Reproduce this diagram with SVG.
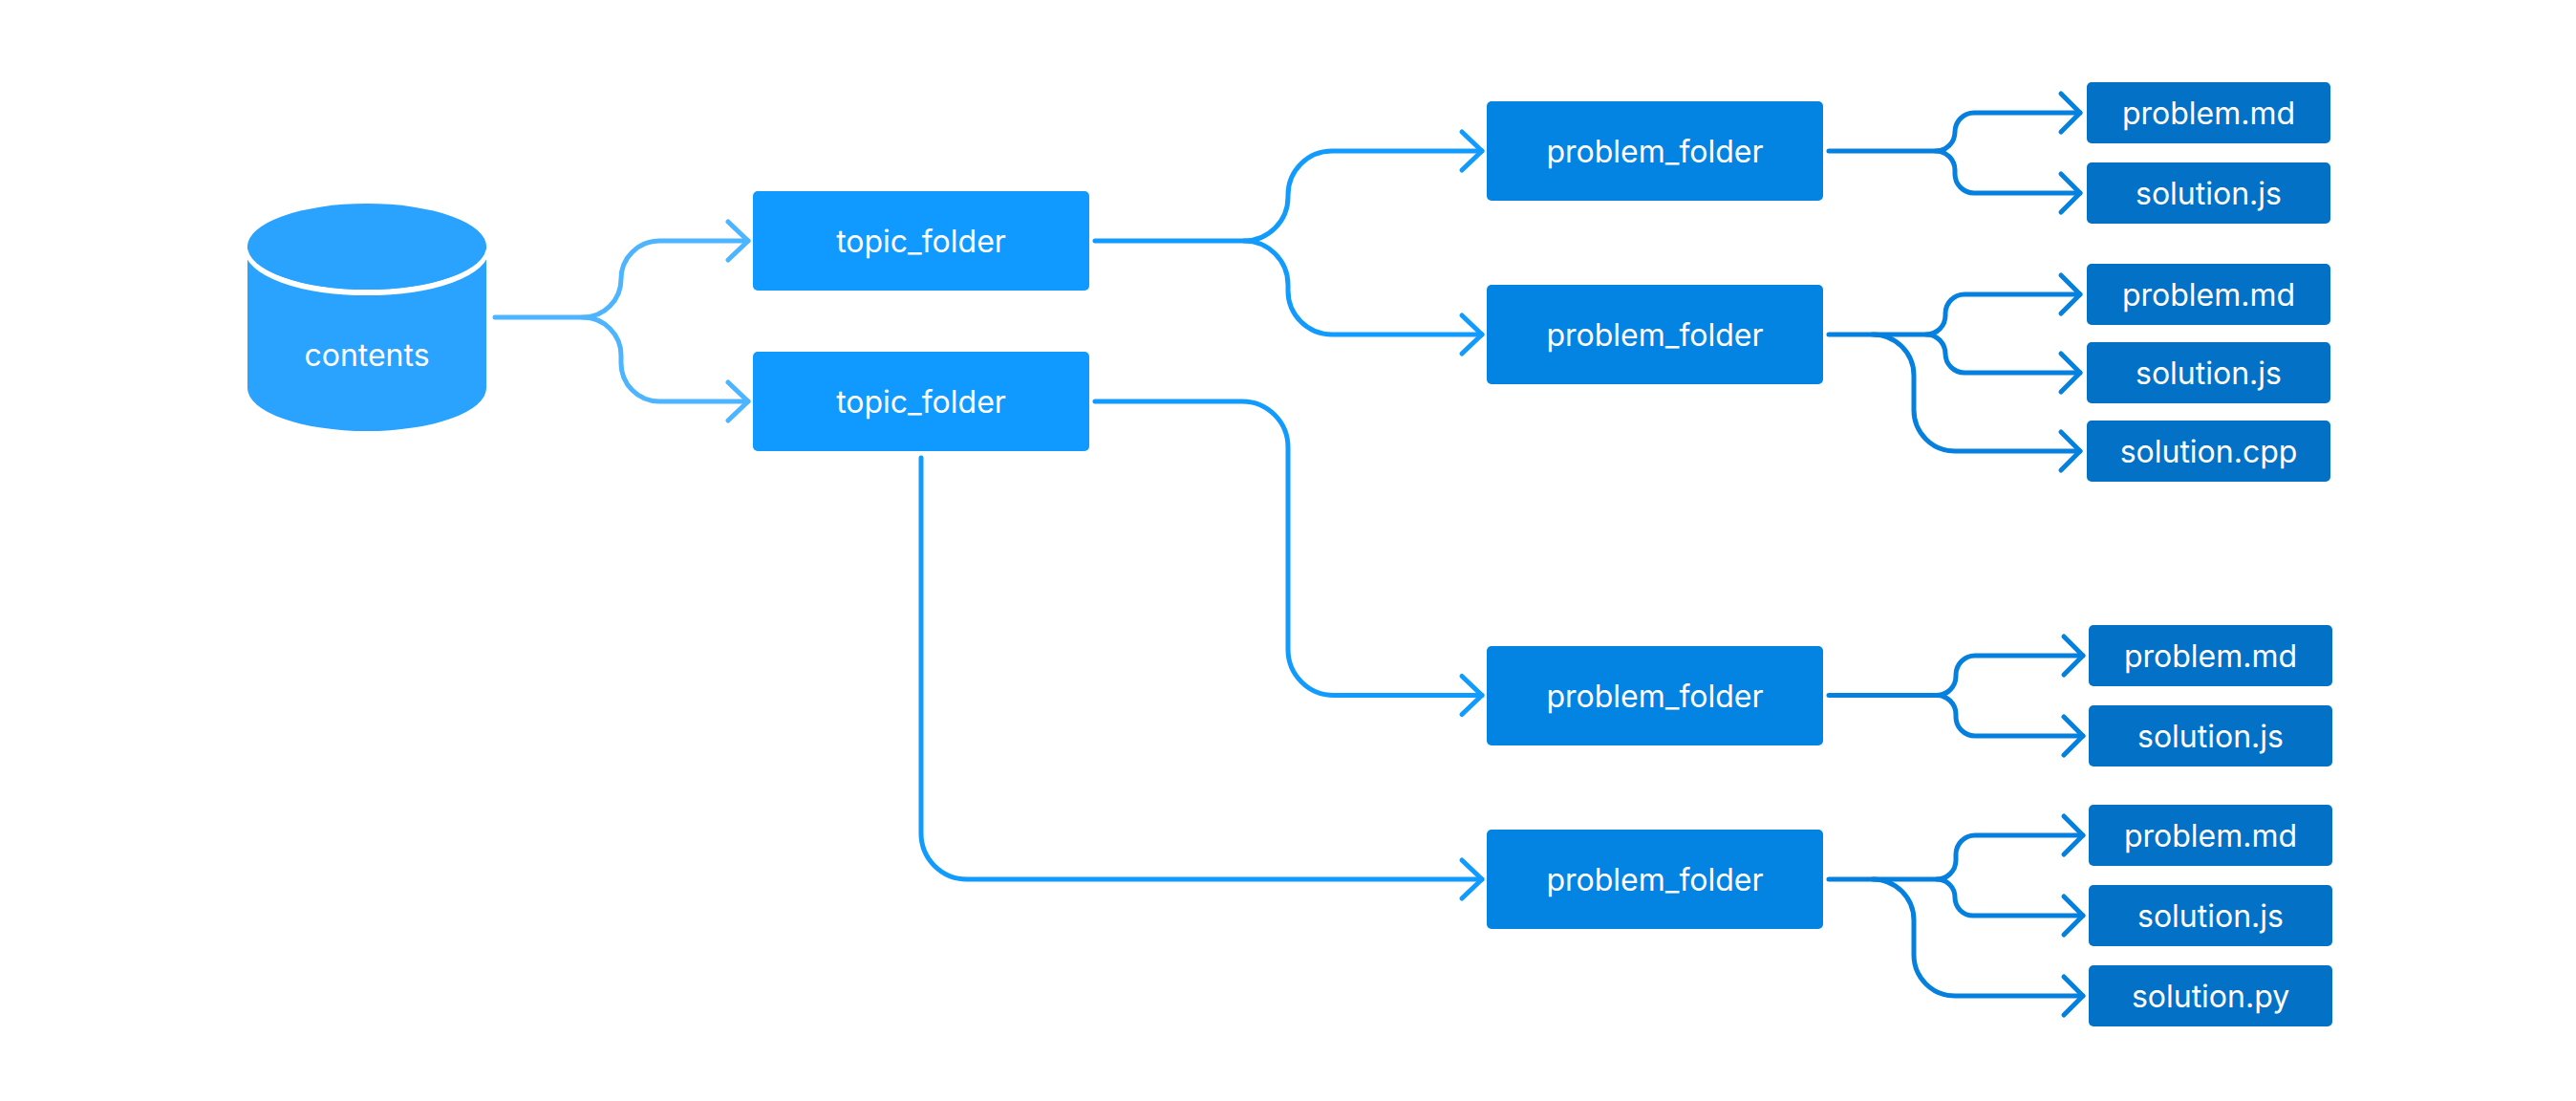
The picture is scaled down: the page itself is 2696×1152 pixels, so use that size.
<svg xmlns="http://www.w3.org/2000/svg" width="2696" height="1152" viewBox="0 0 2696 1152">
  <style>
    .lbl { font-family: Inter, "Liberation Sans", sans-serif; font-size: 32px; fill: #ffffff; text-anchor: middle; }
    .topic { fill: #109AFF; }
    .prob { fill: #0384E3; }
    .file { fill: #0372C6; }
    .c1 { fill: none; stroke: #4DB4FF; stroke-width: 5; stroke-linecap: round; stroke-linejoin: round; }
    .c2 { fill: none; stroke: #129BFF; stroke-width: 5; stroke-linecap: round; stroke-linejoin: round; }
    .c3 { fill: none; stroke: #0580DE; stroke-width: 5; stroke-linecap: round; stroke-linejoin: round; }
  </style>
  <defs>
    <marker id="a1" markerUnits="userSpaceOnUse" markerWidth="30" markerHeight="50" refX="22" refY="22" orient="auto" style="overflow:visible">
      <path d="M1,2 L22,22 L1,42" fill="none" stroke="#4DB4FF" stroke-width="5" stroke-linecap="round" stroke-linejoin="round"/>
    </marker>
    <marker id="a2" markerUnits="userSpaceOnUse" markerWidth="30" markerHeight="50" refX="22" refY="22" orient="auto" style="overflow:visible">
      <path d="M1,2 L22,22 L1,42" fill="none" stroke="#129BFF" stroke-width="5" stroke-linecap="round" stroke-linejoin="round"/>
    </marker>
    <marker id="a3" markerUnits="userSpaceOnUse" markerWidth="30" markerHeight="50" refX="22" refY="22" orient="auto" style="overflow:visible">
      <path d="M2,2 L22,22 L2,42" fill="none" stroke="#0580DE" stroke-width="5" stroke-linecap="round" stroke-linejoin="round"/>
    </marker>
  </defs>
  <rect width="2696" height="1152" fill="#ffffff"/>

  <g id="connectors">
    <path class="c1" d="M518,332 H610 A40,40 0 0 0 650,292 A40,40 0 0 1 690,252 H783" marker-end="url(#a1)"/>
    <path class="c1" d="M610,332 A40,40 0 0 1 650,372 V380 A40,40 0 0 0 690,420 H783" marker-end="url(#a1)"/>

    <path class="c2" d="M1146,252 H1302 A46,46 0 0 0 1348,206 V204 A46,46 0 0 1 1394,158 H1551" marker-end="url(#a2)"/>
    <path class="c2" d="M1302,252 A46,46 0 0 1 1348,298 V304 A46,46 0 0 0 1394,350 H1551" marker-end="url(#a2)"/>
    <path class="c2" d="M1146,420 H1300 A48,48 0 0 1 1348,468 V679.5 A48,48 0 0 0 1396,727.5 H1551" marker-end="url(#a2)"/>
    <path class="c2" d="M964,479 V872 A48,48 0 0 0 1012,920 H1551" marker-end="url(#a2)"/>

    <path class="c3" d="M1914,158 H2026 A20,20 0 0 0 2046,138 A20,20 0 0 1 2066,118 H2177" marker-end="url(#a3)"/>
    <path class="c3" d="M2026,158 A20,20 0 0 1 2046,178 V182 A20,20 0 0 0 2066,202 H2177" marker-end="url(#a3)"/>

    <path class="c3" d="M1914,350 H2016 A20,20 0 0 0 2036,330 V328 A20,20 0 0 1 2056,308 H2177" marker-end="url(#a3)"/>
    <path class="c3" d="M2016,350 A20,20 0 0 1 2036,370 A20,20 0 0 0 2056,390 H2177" marker-end="url(#a3)"/>
    <path class="c3" d="M1960,350 A43,43 0 0 1 2003,393 V429 A43,43 0 0 0 2046,472 H2177" marker-end="url(#a3)"/>

    <path class="c3" d="M1914,727.5 H2027 A20,20 0 0 0 2047,707.5 V706 A20,20 0 0 1 2067,686 H2180" marker-end="url(#a3)"/>
    <path class="c3" d="M2027,727.5 A20,20 0 0 1 2047,747.5 V750 A20,20 0 0 0 2067,770 H2180" marker-end="url(#a3)"/>

    <path class="c3" d="M1914,920 H2027 A20,20 0 0 0 2047,900 V894 A20,20 0 0 1 2067,874 H2180" marker-end="url(#a3)"/>
    <path class="c3" d="M2027,920 A19,19 0 0 1 2046,939 A19,19 0 0 0 2065,958 H2180" marker-end="url(#a3)"/>
    <path class="c3" d="M1960,920 A43,43 0 0 1 2003,963 V999 A43,43 0 0 0 2046,1042 H2180" marker-end="url(#a3)"/>
  </g>

  <g id="contents">
    <path d="M259,258 V406 A125,45 0 0 0 509,406 V258 Z" fill="#29A3FF"/>
    <path d="M259,261 A125,45 0 0 0 509,261" fill="none" stroke="#ffffff" stroke-width="6"/>
    <ellipse cx="384" cy="258" rx="125" ry="45" fill="#29A3FF"/>
    <text class="lbl" x="384" y="383">contents</text>
  </g>

  <g id="topic_folder_1">
    <rect class="topic" x="788" y="200" width="352" height="104" rx="5"/>
    <text class="lbl" x="964" y="264">topic_folder</text>
  </g>
  <g id="topic_folder_2">
    <rect class="topic" x="788" y="368" width="352" height="104" rx="5"/>
    <text class="lbl" x="964" y="432">topic_folder</text>
  </g>

  <g id="problem_folder_1">
    <rect class="prob" x="1556" y="106" width="352" height="104" rx="5"/>
    <text class="lbl" x="1732" y="170">problem_folder</text>
  </g>
  <g id="problem_folder_2">
    <rect class="prob" x="1556" y="298" width="352" height="104" rx="5"/>
    <text class="lbl" x="1732" y="362">problem_folder</text>
  </g>
  <g id="problem_folder_3">
    <rect class="prob" x="1556" y="676" width="352" height="104" rx="5"/>
    <text class="lbl" x="1732" y="740">problem_folder</text>
  </g>
  <g id="problem_folder_4">
    <rect class="prob" x="1556" y="868" width="352" height="104" rx="5"/>
    <text class="lbl" x="1732" y="932">problem_folder</text>
  </g>

  <g id="file_problem_md_1">
    <rect class="file" x="2184" y="86" width="255" height="64" rx="5"/>
    <text class="lbl" x="2311.5" y="130">problem.md</text>
  </g>
  <g id="file_solution_js_1">
    <rect class="file" x="2184" y="170" width="255" height="64" rx="5"/>
    <text class="lbl" x="2311.5" y="214">solution.js</text>
  </g>
  <g id="file_problem_md_2">
    <rect class="file" x="2184" y="276" width="255" height="64" rx="5"/>
    <text class="lbl" x="2311.5" y="320">problem.md</text>
  </g>
  <g id="file_solution_js_2">
    <rect class="file" x="2184" y="358" width="255" height="64" rx="5"/>
    <text class="lbl" x="2311.5" y="402">solution.js</text>
  </g>
  <g id="file_solution_cpp">
    <rect class="file" x="2184" y="440" width="255" height="64" rx="5"/>
    <text class="lbl" x="2311.5" y="484">solution.cpp</text>
  </g>

  <g id="file_problem_md_3">
    <rect class="file" x="2186" y="654" width="255" height="64" rx="5"/>
    <text class="lbl" x="2313.5" y="698">problem.md</text>
  </g>
  <g id="file_solution_js_3">
    <rect class="file" x="2186" y="738" width="255" height="64" rx="5"/>
    <text class="lbl" x="2313.5" y="782">solution.js</text>
  </g>
  <g id="file_problem_md_4">
    <rect class="file" x="2186" y="842" width="255" height="64" rx="5"/>
    <text class="lbl" x="2313.5" y="886">problem.md</text>
  </g>
  <g id="file_solution_js_4">
    <rect class="file" x="2186" y="926" width="255" height="64" rx="5"/>
    <text class="lbl" x="2313.5" y="970">solution.js</text>
  </g>
  <g id="file_solution_py">
    <rect class="file" x="2186" y="1010" width="255" height="64" rx="5"/>
    <text class="lbl" x="2313.5" y="1054">solution.py</text>
  </g>
</svg>
